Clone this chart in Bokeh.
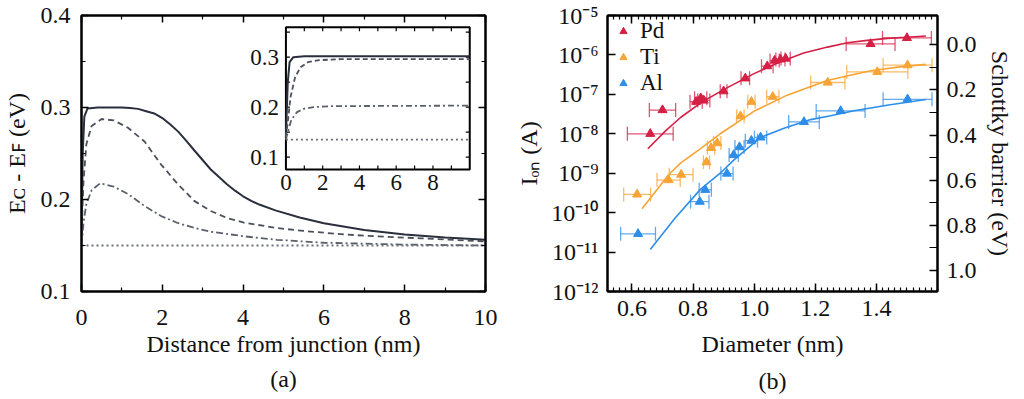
from bokeh.plotting import figure
from bokeh.layouts import row
from bokeh.models import (Range1d, LinearAxis, LinearScale, FixedTicker, Label, Whisker, TeeHead,
                          ColumnDataSource, Legend, LegendItem, PrintfTickFormatter)
from bokeh.embed import file_html
from bokeh.resources import INLINE

FONT = "Liberation Serif"
TICK_PX = "24px"
TITLE_PX = "24px"
INK = "#111111"

# ---------------- data: panel (a) main ----------------
solid_x = [0, 0.03, 0.07, 0.15, 0.4, 1.0, 1.2, 1.4, 1.6, 1.8, 2.0, 2.2, 2.4, 2.6, 2.8, 3.2, 3.6, 3.8, 4.0, 4.2, 4.4, 4.8, 5.4, 6.0, 7.0, 8.0, 9.0, 10.0]
solid_y = [0.16, 0.25, 0.29, 0.299, 0.300, 0.300, 0.2995, 0.2985, 0.296, 0.2935, 0.2885, 0.2815, 0.2735, 0.2635, 0.2530, 0.2326, 0.2166, 0.2096, 0.2035, 0.1985, 0.1945, 0.1882, 0.1805, 0.1742, 0.1668, 0.1620, 0.1586, 0.1562]
dash_x = [0, 0.05, 0.12, 0.25, 0.5, 0.8, 1.15, 1.56, 1.97, 2.38, 2.79, 3.2, 3.6, 4.02, 4.84, 5.5, 6.5, 7.5, 8.4, 10.0]
dash_y = [0.16, 0.22, 0.26, 0.28, 0.2875, 0.286, 0.278, 0.263, 0.238, 0.217, 0.1985, 0.1875, 0.180, 0.1748, 0.169, 0.1658, 0.162, 0.1595, 0.1578, 0.1545]
dd_x = [0, 0.05, 0.12, 0.25, 0.46, 0.8, 1.15, 1.56, 1.97, 2.38, 2.8, 3.2, 4.02, 4.84, 6.0, 8.0, 10.0]
dd_y = [0.15, 0.175, 0.195, 0.21, 0.2176, 0.214, 0.206, 0.193, 0.182, 0.1745, 0.169, 0.165, 0.160, 0.1562, 0.153, 0.151, 0.150]
dot_x = [0, 10.0]
dot_y = [0.15, 0.15]

# ---------------- data: panel (a) inset ----------------
in_solid_x = [0, 0.1, 0.2, 0.4, 1.0, 10.0]
in_solid_y = [0.14, 0.25, 0.29, 0.300, 0.302, 0.302]
in_dash_x = [0, 0.1, 0.25, 0.5, 0.8, 1.2, 1.8, 3.0, 10.0]
in_dash_y = [0.14, 0.17, 0.22, 0.26, 0.28, 0.29, 0.294, 0.296, 0.296]
in_dd_x = [0, 0.1, 0.3, 0.6, 1.0, 1.5, 2.5, 10.0]
in_dd_y = [0.135, 0.15, 0.175, 0.19, 0.197, 0.200, 0.202, 0.203]
in_dot_x = [0, 10.0]
in_dot_y = [0.135, 0.135]

# ---------------- data: panel (b) ----------------
pd_d = [0.66, 0.70, 0.81, 0.825, 0.835, 0.90, 0.971, 1.043, 1.067, 1.086, 1.103, 1.381, 1.50]
pd_i = [1.0e-8, 4.0e-8, 6.5e-8, 8.0e-8, 7.0e-8, 1.2e-7, 2.55e-7, 5.2e-7, 7.2e-7, 7.7e-7, 8.1e-7, 1.9e-6, 2.7e-6]
pd_err = [0.075, 0.043, 0.02, 0.02, 0.02, 0.011, 0.014, 0.019, 0.015, 0.015, 0.015, 0.08, 0.08]
ti_d = [0.617, 0.72, 0.761, 0.844, 0.859, 0.879, 0.955, 0.991, 1.061, 1.241, 1.403, 1.502]
ti_i = [2.9e-10, 6.7e-10, 9.2e-10, 1.9e-9, 4.4e-9, 5.8e-9, 2.8e-8, 6.5e-8, 8.7e-8, 2.0e-7, 3.7e-7, 5.5e-7]
ti_err = [0.044, 0.038, 0.039, 0.01, 0.012, 0.012, 0.012, 0.012, 0.02, 0.056, 0.1, 0.08]
al_d = [0.62, 0.822, 0.84, 0.911, 0.933, 0.952, 0.991, 1.021, 1.163, 1.283, 1.502]
al_i = [2.9e-11, 1.9e-10, 3.8e-10, 9.8e-10, 2.9e-9, 4.6e-9, 6.7e-9, 8.1e-9, 2.0e-8, 3.8e-8, 7.5e-8]
al_err = [0.057, 0.03, 0.02, 0.02, 0.015, 0.015, 0.02, 0.02, 0.05, 0.08, 0.08]

pd_fit_d = [0.652, 0.709, 0.76, 0.83, 0.90, 0.998, 1.08, 1.162, 1.24, 1.305, 1.37, 1.436, 1.50, 1.562]
pd_fit_i = [4.17e-9, 1.17e-8, 2.63e-8, 6.46e-8, 1.32e-7, 3.31e-7, 6.46e-7, 1.12e-6, 1.58e-6, 2.04e-6, 2.34e-6, 2.63e-6, 2.82e-6, 3.02e-6]
ti_fit_d = [0.633, 0.72, 0.758, 0.82, 0.889, 0.999, 1.108, 1.239, 1.30, 1.381, 1.47, 1.562]
ti_fit_i = [1.26e-10, 9.12e-10, 1.78e-9, 3.98e-9, 1.0e-8, 3.72e-8, 9.55e-8, 2.24e-7, 2.88e-7, 3.98e-7, 4.90e-7, 5.75e-7]
al_fit_d = [0.66, 0.74, 0.824, 0.889, 0.933, 1.021, 1.10, 1.185, 1.25, 1.327, 1.44, 1.562]
al_fit_i = [1.17e-11, 7.08e-11, 3.89e-10, 1.0e-9, 2.14e-9, 8.13e-9, 1.41e-8, 2.29e-8, 2.88e-8, 3.85e-8, 5.37e-8, 7.41e-8]

metals = ["Pd", "Ti", "Al"]
a_xticks = [0, 2, 4, 6, 8, 10]
a_yticks = [0.1, 0.2, 0.3, 0.4]
in_xticks = [0, 2, 4, 6, 8]
in_yticks = [0.1, 0.2, 0.3]
b_xticks = [0.6, 0.8, 1.0, 1.2, 1.4]
b_decades = list(range(-12, -4))
sb_ticks = [0.0, 0.2, 0.4, 0.6, 0.8, 1.0]
SUP = str.maketrans("-0123456789", "⁻⁰¹²³⁴⁵⁶⁷⁸⁹")

PD_C, TI_C, AL_C = "#d61f45", "#f7a435", "#2d8de8"

# ---------------- layout constants ----------------
W1, W2, H = 512, 512, 398
TOP, FRAME_H = 15, 276
BOTTOM = H - TOP - FRAME_H
L1, R1 = 78, 27
L2, R2 = 95, 87
FW1 = W1 - L1 - R1


def style_axis(ax, labels=True, maj=7, mnr=4):
    ax.axis_line_color = "black"
    ax.axis_line_width = 2
    ax.major_tick_line_color = "black"
    ax.minor_tick_line_color = "black"
    ax.major_tick_line_width = 1.5
    ax.minor_tick_line_width = 1.2
    ax.major_tick_in = maj
    ax.major_tick_out = 0
    ax.minor_tick_in = mnr
    ax.minor_tick_out = 0
    ax.major_label_text_font = FONT
    ax.axis_label_text_font = FONT
    ax.axis_label_text_font_style = "normal"
    ax.axis_label_text_font_size = TITLE_PX
    ax.axis_label_text_color = INK
    if labels:
        ax.major_label_text_font_size = TICK_PX
        ax.major_label_text_color = INK
    else:
        ax.major_label_text_font_size = "6px"
        ax.major_label_text_color = None
        ax.major_label_standoff = 0


def panel_label(p, text, standoff):
    ax = LinearAxis(axis_label=text, major_label_text_font_size="1px", major_label_text_color=None,
                    major_label_standoff=0, axis_line_color=None, major_tick_line_color=None,
                    minor_tick_line_color=None, major_tick_in=0, major_tick_out=0,
                    minor_tick_in=0, minor_tick_out=0,
                    axis_label_standoff=standoff, axis_label_text_font=FONT,
                    axis_label_text_font_style="normal", axis_label_text_font_size=TITLE_PX,
                    axis_label_text_color=INK)
    p.add_layout(ax, "below")


# =============== panel (a) ===============
p1 = figure(width=W1, height=H, x_range=Range1d(0, 10), y_range=Range1d(0.1, 0.4),
            output_backend="svg", toolbar_location=None,
            min_border_left=L1, min_border_right=R1, min_border_top=TOP, min_border_bottom=BOTTOM)
p1.grid.visible = False
p1.outline_line_color = "black"
p1.outline_line_width = 2

xa = p1.below[0]
xa.ticker = FixedTicker(ticks=a_xticks, minor_ticks=[1, 3, 5, 7, 9])
style_axis(xa)
xa.major_label_standoff = 18
xa.axis_label = "Distance from junction (nm)"
xa.axis_label_standoff = 3
ya = p1.left[0]
ya.ticker = FixedTicker(ticks=a_yticks, minor_ticks=[0.15, 0.25, 0.35])
ya.formatter = PrintfTickFormatter(format="%.1f")
style_axis(ya)
ya.major_label_standoff = 11
ya.axis_label = "Eᴄ - Eꜰ (eV)"
ya.axis_label_standoff = 8

top1 = LinearAxis(ticker=FixedTicker(ticks=a_xticks, minor_ticks=[1, 3, 5, 7, 9]))
style_axis(top1, labels=False)
p1.add_layout(top1, "above")
right1 = LinearAxis(ticker=FixedTicker(ticks=a_yticks, minor_ticks=[0.15, 0.25, 0.35]))
style_axis(right1, labels=False)
p1.add_layout(right1, "right")
panel_label(p1, "(a)", 6)

p1.line(solid_x, solid_y, line_color="#2a2f3d", line_width=2)
p1.line(dash_x, dash_y, line_color="#4b505b", line_width=1.8, line_dash="6 4")
p1.line(dd_x, dd_y, line_color="#5b606a", line_width=1.8, line_dash="7 3 2 3")
p1.line(dot_x, dot_y, line_color="#6a6f78", line_width=1.8, line_dash="2 3")

# ---- inset (own ranges mapped into the box) ----
BX0, BX1, BY0, BY1 = 5.06, 9.61, 0.2325, 0.3873     # inset box in main data coords
IX0, IX1, IY0, IY1 = 0.0, 10.0, 0.075, 0.36         # inset data window
sx = (BX1 - BX0) / (IX1 - IX0)
sy = (BY1 - BY0) / (IY1 - IY0)
p1.extra_x_ranges = {"ix": Range1d(IX0 - (BX0 - 0) / sx, IX1 + (10 - BX1) / sx)}
p1.extra_y_ranges = {"iy": Range1d(IY0 - (BY0 - 0.1) / sy, IY1 + (0.4 - BY1) / sy)}
ipx_x = FW1 / ((10 - 0) / sx)
ipx_y = FRAME_H / ((0.4 - 0.1) / sy)
kw = dict(x_range_name="ix", y_range_name="iy")
p1.quad(left=[IX0], right=[IX1], bottom=[IY0], top=[IY1], fill_color="white",
        line_color="black", line_width=2, **kw)
in_minor_x = [1, 2, 3, 4, 5, 6, 7, 8, 9]
tl = 4
p1.segment(x0=in_minor_x, x1=in_minor_x, y0=[IY0] * 9, y1=[IY0 + tl / ipx_y] * 9,
           line_color="black", line_width=1.2, **kw)
p1.segment(x0=in_minor_x, x1=in_minor_x, y0=[IY1] * 9, y1=[IY1 - tl / ipx_y] * 9,
           line_color="black", line_width=1.2, **kw)
in_minor_y = [0.1, 0.15, 0.2, 0.25, 0.3, 0.35]
p1.segment(x0=[IX0] * 6, x1=[IX0 + tl / ipx_x] * 6, y0=in_minor_y, y1=in_minor_y,
           line_color="black", line_width=1.2, **kw)
p1.segment(x0=[IX1] * 6, x1=[IX1 - tl / ipx_x] * 6, y0=in_minor_y, y1=in_minor_y,
           line_color="black", line_width=1.2, **kw)
p1.line(in_solid_x, in_solid_y, line_color="#2a2f3d", line_width=2, **kw)
p1.line(in_dash_x, in_dash_y, line_color="#4b505b", line_width=1.8, line_dash="5 3", **kw)
p1.line(in_dd_x, in_dd_y, line_color="#5b606a", line_width=1.8, line_dash="6 3 2 3", **kw)
p1.line(in_dot_x, in_dot_y, line_color="#6a6f78", line_width=1.8, line_dash="2 3", **kw)
for t in in_xticks:
    p1.add_layout(Label(x=t, y=IY0, y_offset=-5, text=str(t), text_align="center", text_baseline="top",
                        text_font=FONT, text_font_size="23px", text_color=INK, **kw))
for t in in_yticks:
    p1.add_layout(Label(x=IX0, y=t, x_offset=-7, text=f"{t:.1f}", text_align="right", text_baseline="middle",
                        text_font=FONT, text_font_size="23px", text_color=INK, **kw))

# =============== panel (b) ===============
XB0, XB1 = 0.52, 1.6
b_minor = [round(0.52 + 0.02 * k, 2) for k in range(0, 55)]
p2 = figure(width=W2, height=H, x_range=Range1d(XB0, XB1), y_range=Range1d(1e-12, 1e-5),
            y_axis_type="log", output_backend="svg", toolbar_location=None,
            min_border_left=L2, min_border_right=R2, min_border_top=TOP, min_border_bottom=BOTTOM)
p2.grid.visible = False
p2.outline_line_color = "black"
p2.outline_line_width = 2
p2.extra_y_ranges = {"sb": Range1d(start=1.094, end=-0.13)}
p2.extra_y_scales = {"sb": LinearScale()}

xb = p2.below[0]
xb.ticker = FixedTicker(ticks=b_xticks, minor_ticks=b_minor)
xb.formatter = PrintfTickFormatter(format="%.1f")
style_axis(xb, maj=8, mnr=4)
xb.major_label_standoff = 9
xb.axis_label = "Diameter (nm)"
xb.axis_label_standoff = 12
yb = p2.left[0]
dec_vals = [10.0 ** k for k in b_decades]
yb.ticker = FixedTicker(ticks=dec_vals)
style_axis(yb, maj=8)
yb.major_label_overrides = {v: "10" + str(k).translate(SUP) for v, k in zip(dec_vals, b_decades)}
yb.major_label_standoff = 9
yb.axis_label = "Iₒₙ (A)"
yb.axis_label_standoff = 6
top2 = LinearAxis(ticker=FixedTicker(ticks=b_xticks, minor_ticks=b_minor))
style_axis(top2, labels=False, maj=8, mnr=4)
p2.add_layout(top2, "above")
right2 = LinearAxis(y_range_name="sb", ticker=FixedTicker(ticks=sb_ticks, minor_ticks=[0.1, 0.3, 0.5, 0.7, 0.9]),
                    formatter=PrintfTickFormatter(format="%.1f"))
style_axis(right2, maj=8, mnr=8)
right2.major_label_standoff = 9
right2.axis_label = "Schottky barrier (eV)"
right2.axis_label_standoff = 7
p2.add_layout(right2, "right")
panel_label(p2, "(b)", 8)


def errbars(p, d, i, e, color):
    src = ColumnDataSource(dict(base=i, lower=[a - b for a, b in zip(d, e)], upper=[a + b for a, b in zip(d, e)]))
    p.add_layout(Whisker(source=src, base="base", lower="lower", upper="upper", dimension="width",
                         line_color=color, line_alpha=0.75, line_width=1.3, level="underlay",
                         upper_head=TeeHead(size=14, line_color=color, line_alpha=0.75, line_width=1.3),
                         lower_head=TeeHead(size=14, line_color=color, line_alpha=0.75, line_width=1.3)))


rs = []
for d, i, e, fd, fi, c in [(pd_d, pd_i, pd_err, pd_fit_d, pd_fit_i, PD_C),
                           (ti_d, ti_i, ti_err, ti_fit_d, ti_fit_i, TI_C),
                           (al_d, al_i, al_err, al_fit_d, al_fit_i, AL_C)]:
    errbars(p2, d, i, e, c)
    p2.line(fd, fi, line_color=c, line_width=1.6)
    rs.append(p2.scatter(d, i, marker="triangle", size=9, fill_color=c, line_color=c))

legend = Legend(items=[LegendItem(label=m, renderers=[r]) for m, r in zip(metals, rs)],
                location="top_left", margin=3, padding=0, spacing=-6, glyph_width=26, glyph_height=18,
                label_standoff=4, label_height=14, label_text_font=FONT, label_text_font_size="23px",
                label_text_line_height=0.8,
                label_text_color=INK, border_line_color=None, background_fill_alpha=0)
p2.add_layout(legend)

layout = row(p1, p2)
open("out.html", "w").write(file_html(layout, INLINE))
